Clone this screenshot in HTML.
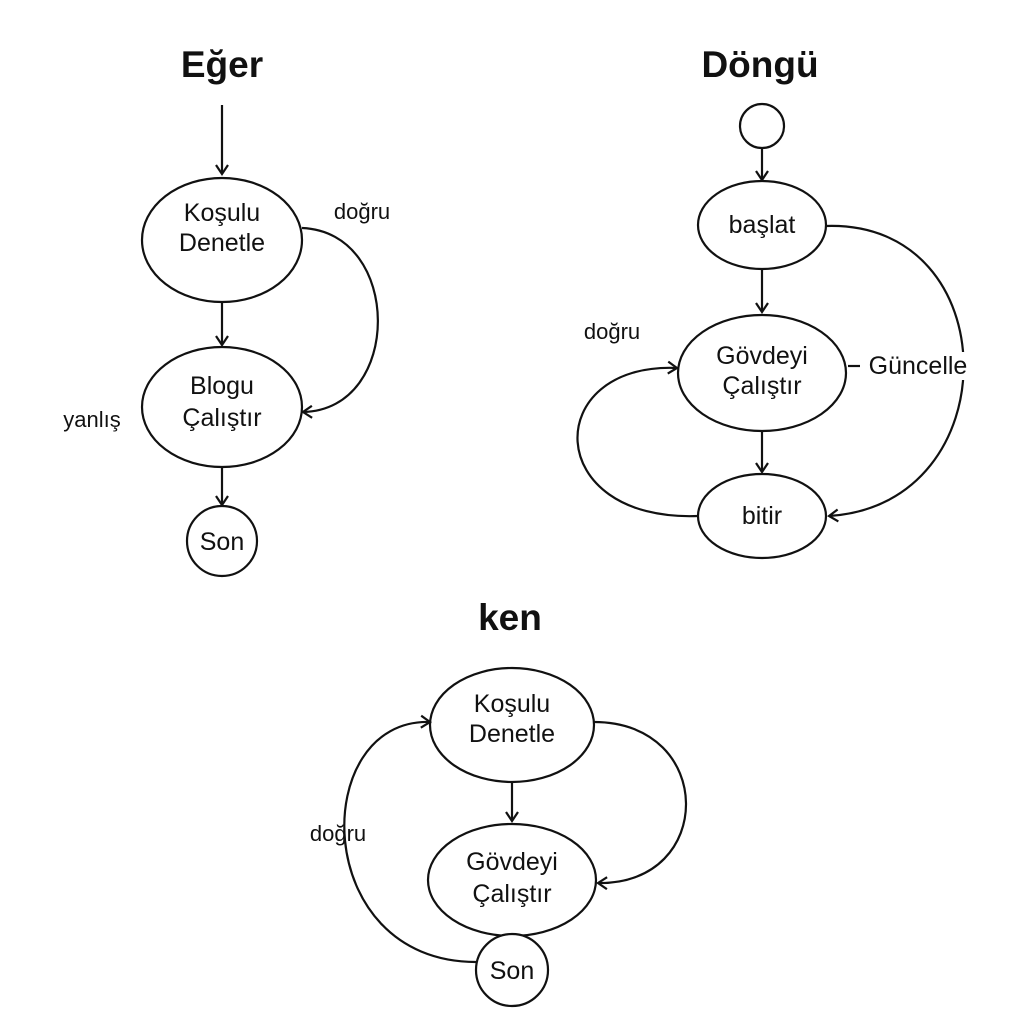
<!DOCTYPE html>
<html><head><meta charset="utf-8"><style>
html,body{margin:0;padding:0;background:#fff}
svg{display:block}
text{font-family:"Liberation Sans",sans-serif;fill:#111}
</style></head><body>
<svg width="1024" height="1024" viewBox="0 0 1024 1024" xmlns="http://www.w3.org/2000/svg">
<defs><marker id="a" markerWidth="14" markerHeight="14" refX="11" refY="7" orient="auto" markerUnits="userSpaceOnUse"><path d="M2,1 L11,7 L2,13" fill="none" stroke="#111" stroke-width="2.2"/></marker></defs>
<g stroke="#111" stroke-width="2.2" fill="none">
<!-- Eğer -->
<line x1="222" y1="105" x2="222" y2="174" marker-end="url(#a)"/>
<ellipse cx="222" cy="240" rx="80" ry="62" fill="#fff"/>
<line x1="222" y1="302" x2="222" y2="345" marker-end="url(#a)"/>
<ellipse cx="222" cy="407" rx="80" ry="60" fill="#fff"/>
<line x1="222" y1="467" x2="222" y2="505" marker-end="url(#a)"/>
<circle cx="222" cy="541" r="35" fill="#fff"/>
<path d="M302,228 C403,232 403,410 303,412" marker-end="url(#a)"/>
<!-- Döngü -->
<circle cx="762" cy="126" r="22"/>
<line x1="762" y1="148" x2="762" y2="180" marker-end="url(#a)"/>
<ellipse cx="762" cy="225" rx="64" ry="44" fill="#fff"/>
<line x1="762" y1="269" x2="762" y2="312" marker-end="url(#a)"/>
<ellipse cx="762" cy="373" rx="84" ry="58" fill="#fff"/>
<line x1="762" y1="431" x2="762" y2="472" marker-end="url(#a)"/>
<ellipse cx="762" cy="516" rx="64" ry="42" fill="#fff"/>
<path d="M826,226 C1008,220 1010,505 829,516" marker-end="url(#a)"/>
<path d="M698,516 C541,522 541,362 677,368" marker-end="url(#a)"/>
<line x1="848" y1="366" x2="860" y2="366"/>
<!-- ken -->
<ellipse cx="512" cy="725" rx="82" ry="57" fill="#fff"/>
<line x1="512" y1="782" x2="512" y2="821" marker-end="url(#a)"/>
<ellipse cx="512" cy="880" rx="84" ry="56" fill="#fff"/>
<circle cx="512" cy="970" r="36" fill="#fff"/>
<path d="M594,722 C716,722 716,885 598,883" marker-end="url(#a)"/>
<path d="M476,962 C309,962 309,718 430,722" marker-end="url(#a)"/>
</g>
<rect x="862" y="352" width="110" height="28" fill="#fff"/>
<g font-size="25" text-anchor="middle">
<text x="222" y="77" font-size="37" font-weight="bold">Eğer</text>
<text x="222" y="221">Koşulu</text><text x="222" y="251">Denetle</text>
<text x="222" y="394">Blogu</text><text x="222" y="426">Çalıştır</text>
<text x="222" y="550">Son</text>
<text x="362" y="219" font-size="22">doğru</text>
<text x="92" y="427" font-size="22">yanlış</text>
<text x="760" y="77" font-size="37" font-weight="bold">Döngü</text>
<text x="762" y="233">başlat</text>
<text x="762" y="364">Gövdeyi</text><text x="762" y="394">Çalıştır</text>
<text x="762" y="524">bitir</text>
<text x="918" y="374">Güncelle</text>
<text x="612" y="339" font-size="22">doğru</text>
<text x="510" y="630" font-size="37" font-weight="bold">ken</text>
<text x="512" y="712">Koşulu</text><text x="512" y="742">Denetle</text>
<text x="512" y="870">Gövdeyi</text><text x="512" y="902">Çalıştır</text>
<text x="512" y="979">Son</text>
<text x="338" y="841" font-size="22">doğru</text>
</g>
</svg>
</body></html>
